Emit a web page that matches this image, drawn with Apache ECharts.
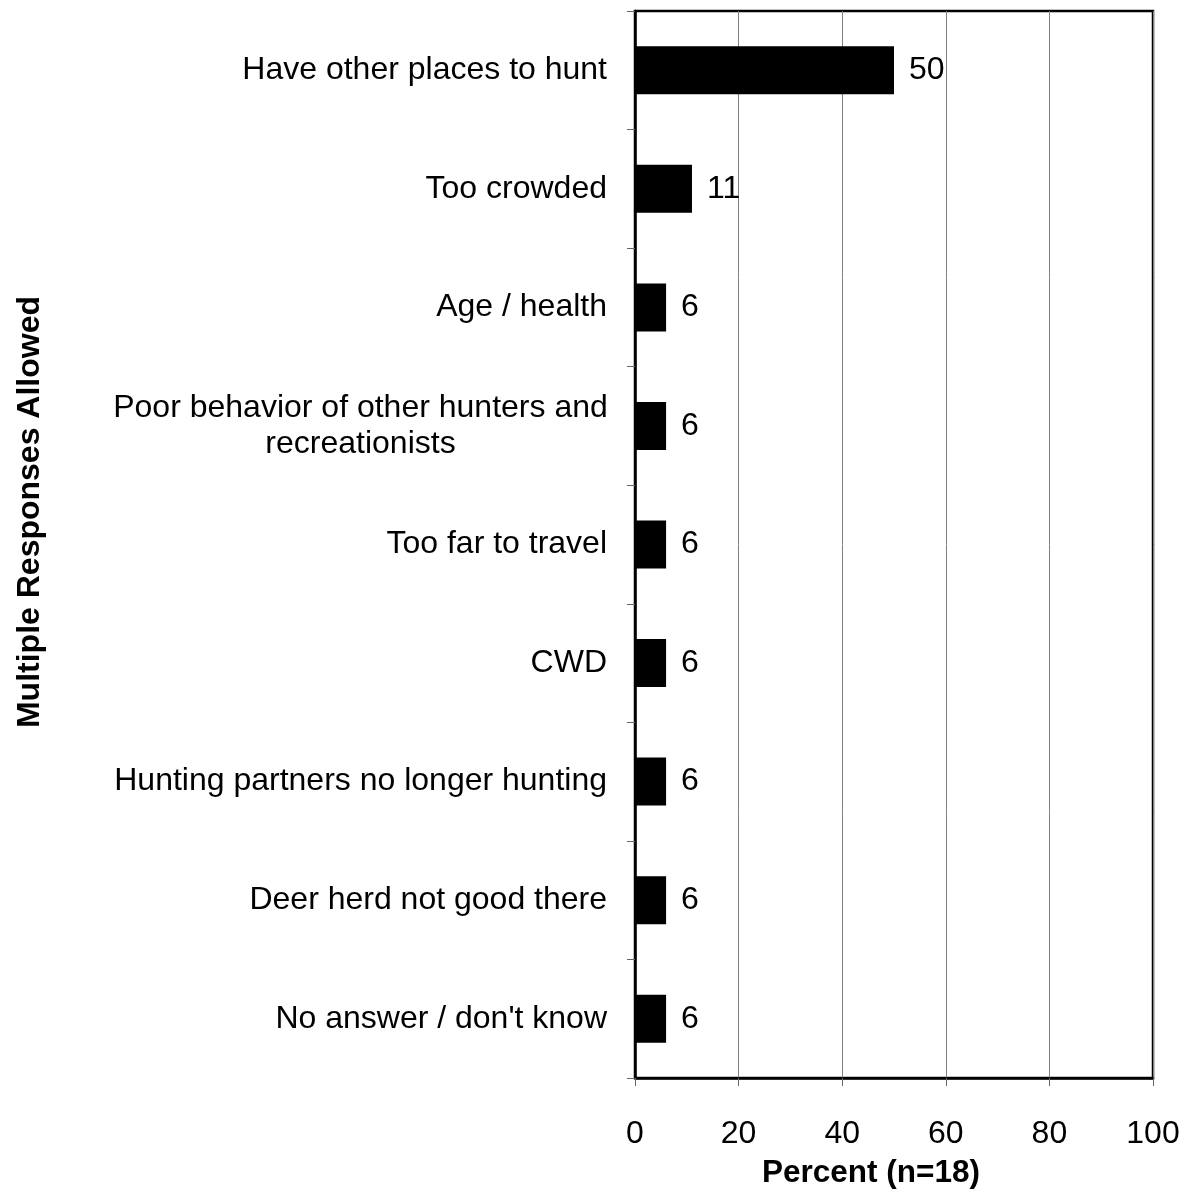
<!DOCTYPE html>
<html>
<head>
<meta charset="utf-8">
<script src="https://cdn.jsdelivr.net/npm/echarts@6/dist/echarts.min.js"></script>
<style>
html,body{margin:0;padding:0;background:#fff;}
#chart{width:1185px;height:1192px;}
</style>
</head>
<body>
<div id="chart"></div>
<script>
var categories = [
  "Have other places to hunt",
  "Too crowded",
  "Age / health",
  "Poor behavior of other hunters and\nrecreationists",
  "Too far to travel",
  "CWD",
  "Hunting partners no longer hunting",
  "Deer herd not good there",
  "No answer / don't know"
];
var values = [50, 11, 6, 6, 6, 6, 6, 6, 6];
var xTicks = [0, 20, 40, 60, 80, 100];
var xTitle = "Percent (n=18)";
var yTitle = "Multiple Responses Allowed";

var FONT = "'Liberation Sans', Arial, Helvetica, sans-serif";
var chart = echarts.init(document.getElementById('chart'), null, {renderer: 'canvas'});

var option = {
  animation: false,
  backgroundColor: '#fff',
  grid: {left: 635, right: 32, top: 11, bottom: 114, show: true, borderColor: '#000', borderWidth: 2.5, backgroundColor: 'transparent'},
  xAxis: {
    type: 'value', min: xTicks[0], max: xTicks[xTicks.length - 1], interval: 20,
    axisLine: {show: true, lineStyle: {color: '#000', width: 2.5}},
    axisTick: {show: true, length: 8, lineStyle: {color: '#666', width: 1}},
    splitLine: {show: true, lineStyle: {color: '#808080', width: 1}},
    axisLabel: {color: '#000', fontFamily: FONT, fontSize: 32, margin: 40}
  },
  yAxis: {
    type: 'category', data: categories, inverse: true,
    axisLine: {show: true, lineStyle: {color: '#000', width: 2.5}},
    axisTick: {show: true, length: 8, lineStyle: {color: '#666', width: 1}},
    axisLabel: {
      color: '#000', fontFamily: FONT, fontSize: 32, margin: 28, lineHeight: 36,
      formatter: function (v) {
        if (v.indexOf('\n') >= 0) {
          return v.split('\n').map(function (s) { return '{c|' + s + '}'; }).join('\n');
        }
        return v;
      },
      rich: {c: {width: 493, align: 'center', fontFamily: FONT, fontSize: 32, lineHeight: 36, color: '#000'}}
    }
  },
  series: [{
    type: 'bar', data: values, barWidth: 48,
    itemStyle: {color: '#000'},
    label: {show: true, position: 'right', distance: 15, color: '#000', fontFamily: FONT, fontSize: 32}
  }],
  graphic: [
    {type: 'text', style: {text: xTitle, font: 'bold 31.5px ' + FONT, fill: '#000', textAlign: 'center', textVerticalAlign: 'middle'}, x: 871, y: 1173},
    {type: 'text', style: {text: yTitle, font: 'bold 32px ' + FONT, fill: '#000', textAlign: 'center', textVerticalAlign: 'middle'}, x: 30, y: 512, rotation: Math.PI / 2}
  ]
};
chart.setOption(option);
</script>
</body>
</html>
